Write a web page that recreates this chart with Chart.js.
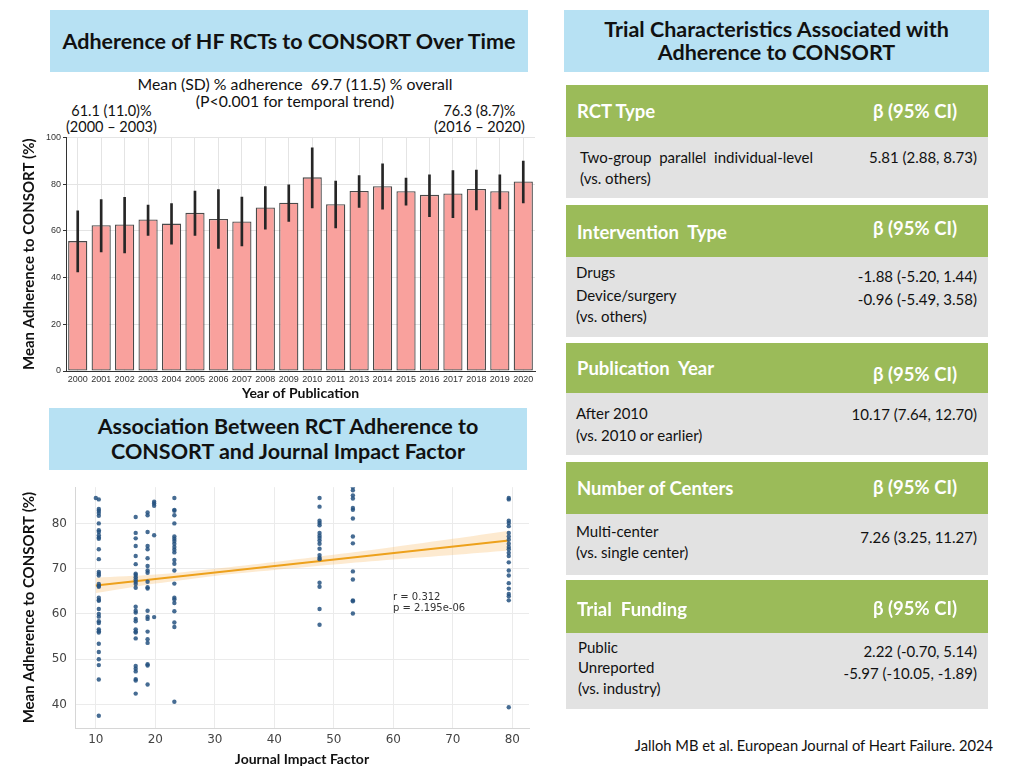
<!DOCTYPE html>
<html>
<head>
<meta charset="utf-8">
<script src="https://cdn.jsdelivr.net/npm/chart.js@4"></script>
<style>
  html, body { margin: 0; padding: 0; background: #fff; }
  body { width: 1024px; height: 768px; position: relative; overflow: hidden; font-family: Lato, "Open Sans", sans-serif; color: #111; }
  .abs { position: absolute; }
  .titlebox { position: absolute; background: #b7e1f3; font-weight: bold; text-align: center; color: #111; }
  .hdr { position: absolute; left: 566px; width: 422px; background: #9bbb59; color: #fff; font-weight: bold; font-size: 18.5px; }
  .hdr span { position: absolute; }
  .body { position: absolute; left: 566px; width: 422px; background: #e2e2e2; font-size: 15px; color: #111; }
  .body span { position: absolute; white-space: nowrap; }
  .r { right: 11px; text-align: right; }
  canvas { position: absolute; }
</style>
</head>
<body>

<div class="titlebox" style="left:50px;top:10px;width:478px;height:62px;line-height:62px;font-size:21.5px;">Adherence of HF RCTs to CONSORT Over Time</div>
<div class="abs" style="left:60px;width:470px;top:75px;text-align:center;font-size:15.8px;line-height:17px;">Mean (SD) % adherence&nbsp; 69.7 (11.5) % overall<br>(P&lt;0.001 for temporal trend)</div>
<div class="abs" style="left:66px;top:103px;font-size:14.5px;line-height:16px;text-align:center;">61.1 (11.0)%<br>(2000 – 2003)</div>
<div class="abs" style="left:434px;top:103px;font-size:14.5px;line-height:16px;text-align:center;">76.3 (8.7)%<br>(2016 – 2020)</div>

<canvas id="bar" width="520" height="272" style="left:20px;top:130px;"></canvas>

<div class="titlebox" style="left:49px;top:408px;width:478px;height:62px;font-size:21.5px;line-height:25px;padding-top:6px;box-sizing:border-box;">Association Between RCT Adherence to<br>CONSORT and Journal Impact Factor</div>

<canvas id="scatter" width="520" height="296" style="left:20px;top:472px;"></canvas>
<div class="abs" style="left:393px;top:591px;font-family:'DejaVu Sans';font-size:10px;line-height:11px;color:#333;">r = 0.312<br>p = 2.195e-06</div>

<div class="titlebox" style="left:564px;top:10px;width:425px;height:62px;font-size:21.5px;line-height:23px;padding-top:8px;box-sizing:border-box;">Trial Characteristics Associated with<br>Adherence to CONSORT</div>

<div class="hdr" style="top:85px;height:52px;"><span style="left:11px;top:15px;">RCT Type</span><span style="left:307px;top:15px;">β (95% CI)</span></div>
<div class="body" style="top:137px;height:61px;">
  <span style="left:14px;top:11px;">Two-group&nbsp; parallel&nbsp; individual-level</span>
  <span style="left:14px;top:32px;">(vs. others)</span>
  <span class="r" style="top:11px;">5.81 (2.88, 8.73)</span>
</div>

<div class="hdr" style="top:205px;height:52px;"><span style="left:11px;top:16px;">Intervention&nbsp; Type</span><span style="left:307px;top:12px;">β (95% CI)</span></div>
<div class="body" style="top:257px;height:80px;">
  <span style="left:10px;top:6px;">Drugs</span>
  <span style="left:10px;top:29px;">Device/surgery</span>
  <span style="left:10px;top:50px;">(vs. others)</span>
  <span class="r" style="top:10px;">-1.88 (-5.20, 1.44)</span>
  <span class="r" style="top:33px;">-0.96 (-5.49, 3.58)</span>
</div>

<div class="hdr" style="top:343px;height:50px;"><span style="left:11px;top:14px;">Publication&nbsp; Year</span><span style="left:307px;top:20px;">β (95% CI)</span></div>
<div class="body" style="top:393px;height:62px;">
  <span style="left:10px;top:11px;">After 2010</span>
  <span style="left:10px;top:33px;">(vs. 2010 or earlier)</span>
  <span class="r" style="top:12px;">10.17 (7.64, 12.70)</span>
</div>

<div class="hdr" style="top:462px;height:52px;"><span style="left:11px;top:15px;">Number of Centers</span><span style="left:307px;top:14px;">β (95% CI)</span></div>
<div class="body" style="top:514px;height:61px;">
  <span style="left:10px;top:8px;">Multi-center</span>
  <span style="left:10px;top:29px;">(vs. single center)</span>
  <span class="r" style="top:14px;">7.26 (3.25, 11.27)</span>
</div>

<div class="hdr" style="top:580px;height:53px;"><span style="left:11px;top:18px;">Trial&nbsp; Funding</span><span style="left:307px;top:17px;">β (95% CI)</span></div>
<div class="body" style="top:633px;height:76px;">
  <span style="left:12px;top:5px;">Public</span>
  <span style="left:12px;top:25px;">Unreported</span>
  <span style="left:12px;top:46px;">(vs. industry)</span>
  <span class="r" style="top:9px;">2.22 (-0.70, 5.14)</span>
  <span class="r" style="top:31px;">-5.97 (-10.05, -1.89)</span>
</div>

<div class="abs" style="right:31px;top:736px;font-size:14.7px;">Jalloh MB et al. European Journal of Heart Failure. 2024</div>

<script>
// bar chart data (mean % adherence per year, with SD whiskers)
const years = ['2000', '2001', '2002', '2003', '2004', '2005', '2006', '2007', '2008', '2009',
               '2010', '2011', '2013', '2014', '2015', '2016', '2017', '2018', '2019', '2020'];
const meanAdherence = [55.6, 62.4, 62.7, 64.9, 63.1, 67.7, 65.1, 64.0, 70.0, 72.0,
                       82.9, 71.4, 77.1, 79.1, 77.0, 75.4, 76.0, 77.9, 77.0, 81.1];
const errLow = [42.4, 51.0, 50.5, 58.0, 54.3, 58.0, 52.5, 53.5, 60.7, 64.0,
                69.8, 61.2, 70.0, 69.3, 71.0, 66.1, 65.6, 69.0, 69.4, 72.0];
const errHigh = [68.6, 73.4, 74.3, 71.0, 71.7, 77.0, 77.7, 74.5, 79.0, 79.7,
                 95.5, 81.3, 83.7, 88.7, 82.6, 84.0, 85.8, 86.0, 84.0, 89.9];
const barYTicks = [0, 20, 40, 60, 80, 100];

// scatter data: journal impact factor -> trial adherence values
const impactFactors = [10.0, 10.5, 16.7, 18.7, 19.8, 23.2, 47.6, 53.2, 79.4];
const adherenceByJournal = [
  [85.6],
  [85.3, 83.2, 82.8, 82.3, 81.7, 80.0, 78.5, 78.1, 77.4, 76.9, 76.6, 74.3, 72.1, 69.3, 68.9, 68.5,
   66.6, 66.2, 66.0, 63.6, 63.1, 62.9, 61.1, 60.0, 59.4, 58.4, 58.0, 56.6, 56.2, 55.9, 53.4, 51.6,
   50.0, 48.7, 45.5, 37.5],
  [81.4, 77.9, 76.7, 75.0, 72.8, 71.0, 68.9, 68.6, 68.1, 67.6, 67.1, 66.6, 65.8, 61.6, 60.7, 60.3,
   58.9, 58.4, 56.6, 56.1, 55.9, 54.6, 48.5, 47.9, 47.3, 45.6, 45.3, 42.4],
  [82.4, 81.8, 78.1, 75.0, 74.3, 72.3, 70.6, 69.6, 69.1, 67.1, 65.9, 65.6, 60.7, 59.4, 58.9, 56.1,
   54.4, 53.6, 48.9, 48.6, 44.4],
  [84.8, 84.4, 83.9, 77.4, 59.3],
  [85.6, 83.0, 82.8, 81.8, 80.0, 77.1, 76.6, 76.1, 75.5, 74.8, 74.2, 73.6, 71.9, 71.1, 69.6, 66.7,
   63.6, 63.2, 62.4, 60.6, 58.1, 57.1, 40.6],
  [85.6, 83.7, 80.6, 80.1, 79.6, 77.9, 77.3, 76.8, 76.2, 75.5, 74.4, 73.0, 72.4, 72.1, 66.9, 66.0,
   61.1, 57.6],
  [88.0, 87.3, 86.2, 85.5, 83.4, 83.0, 81.1, 77.1, 75.6, 69.4, 67.6, 63.0, 62.8, 60.1],
  [85.6, 85.3, 80.6, 80.1, 79.4, 77.9, 77.1, 76.4, 75.5, 74.8, 74.3, 73.5, 72.8, 71.4, 69.6, 68.5,
   66.8, 65.6, 64.4, 63.9, 63.0, 39.4]
];
const fitX = [10, 79.4];
const fitY = [66.3, 76.2];
const bandX = [10, 20, 30, 40, 50, 60, 70, 79.4];
const bandLow = [64.6, 66.7, 68.4, 69.7, 70.9, 72.0, 73.0, 74.0];
const bandHigh = [68.0, 68.7, 70.0, 71.5, 73.1, 74.8, 76.6, 78.4];
const scatterXTicks = [10, 20, 30, 40, 50, 60, 70, 80];
const scatterYTicks = [40, 50, 60, 70, 80];

const toXY = (xs, ys) => xs.map((x, i) => ({x: x, y: ys[i]}));
const scatterPoints = [];
impactFactors.forEach((f, i) => adherenceByJournal[i].forEach(v => scatterPoints.push({x: f, y: v})));

new Chart(document.getElementById('bar'), {
  type: 'bar',
  data: {
    labels: years,
    datasets: [
      {
        label: 'SD',
        data: years.map((y, i) => [errLow[i], errHigh[i]]),
        backgroundColor: '#262626',
        borderWidth: 0,
        barThickness: 2,
        grouped: false,
        order: 0
      },
      {
        label: 'Mean',
        data: meanAdherence,
        backgroundColor: '#f9a19d',
        borderColor: '#4a4a4a',
        borderWidth: 1.3,
        borderSkipped: false,
        barPercentage: 0.9,
        categoryPercentage: 0.91,
        grouped: false,
        order: 1
      }
    ]
  },
  options: {
    responsive: false,
    animation: false,
    devicePixelRatio: 1,
    layout: {padding: {top: 7, right: 5}},
    plugins: {legend: {display: false}, tooltip: {enabled: false}},
    scales: {
      x: {
        afterFit: s => { s.height = 31; },
        grid: {color: '#e4e4e4', offset: false, drawTicks: false},
        border: {color: '#333', width: 1},
        ticks: {color: '#333', font: {family: 'Liberation Sans', size: 9}, padding: 3, maxRotation: 0, autoSkip: false},
        title: {display: true, text: 'Year of Publication', color: '#111',
                font: {family: 'Lato', size: 14, weight: 'bold'}, padding: {top: 0, bottom: 0}}
      },
      y: {
        min: 0, max: 100,
        afterFit: s => { s.width = 46; },
        afterBuildTicks: s => { s.ticks = barYTicks.map(v => ({value: v})); },
        grid: {color: '#e4e4e4', tickLength: 3, tickColor: '#333'},
        border: {color: '#333', width: 1},
        ticks: {color: '#333', font: {family: 'Liberation Sans', size: 9}, padding: 2},
        title: {display: true, text: 'Mean Adherence to CONSORT (%)', color: '#111',
                font: {family: 'Lato', size: 15, weight: 'bold'}, padding: {top: 0, bottom: 2}}
      }
    }
  }
});

new Chart(document.getElementById('scatter'), {
  type: 'scatter',
  data: {
    datasets: [
      {
        label: 'trials',
        data: scatterPoints,
        backgroundColor: 'rgba(38, 82, 128, 0.85)',
        borderWidth: 0,
        pointRadius: 2.2,
        order: 0
      },
      {
        label: 'band low',
        type: 'line',
        data: toXY(bandX, bandLow),
        borderWidth: 0,
        pointRadius: 0,
        fill: false,
        tension: 0.3,
        order: 3
      },
      {
        label: 'band high',
        type: 'line',
        data: toXY(bandX, bandHigh),
        borderWidth: 0,
        pointRadius: 0,
        fill: '-1',
        backgroundColor: 'rgba(248, 196, 120, 0.35)',
        tension: 0.3,
        order: 2
      },
      {
        label: 'fit',
        type: 'line',
        data: toXY(fitX, fitY),
        borderColor: '#eda11c',
        borderWidth: 2,
        pointRadius: 0,
        fill: false,
        order: 1
      }
    ]
  },
  options: {
    responsive: false,
    animation: false,
    devicePixelRatio: 1,
    layout: {padding: {top: 6, right: 11}},
    plugins: {legend: {display: false}, tooltip: {enabled: false}},
    scales: {
      x: {
        type: 'linear',
        min: 6.5, max: 82.8,
        afterFit: s => { s.height = 40; },
        afterBuildTicks: s => { s.ticks = scatterXTicks.map(v => ({value: v})); },
        grid: {color: '#ebebeb', drawTicks: false},
        border: {color: '#d6d6d6', width: 1},
        ticks: {color: '#444', font: {family: 'DejaVu Sans', size: 12}, padding: 5},
        title: {display: true, text: 'Journal Impact Factor', color: '#111',
                font: {family: 'Lato', size: 14, weight: 'bold'}, padding: {top: 1, bottom: 0}}
      },
      y: {
        min: 34.8, max: 88,
        afterFit: s => { s.width = 55; },
        afterBuildTicks: s => { s.ticks = scatterYTicks.map(v => ({value: v})); },
        grid: {color: '#ebebeb', drawTicks: false},
        border: {color: '#d6d6d6', width: 1},
        ticks: {color: '#444', font: {family: 'DejaVu Sans', size: 12}, padding: 8},
        title: {display: true, text: 'Mean Adherence to CONSORT (%)', color: '#111',
                font: {family: 'Lato', size: 15, weight: 'bold'}, padding: {top: 0, bottom: 2}}
      }
    }
  }
});
</script>
</body>
</html>
